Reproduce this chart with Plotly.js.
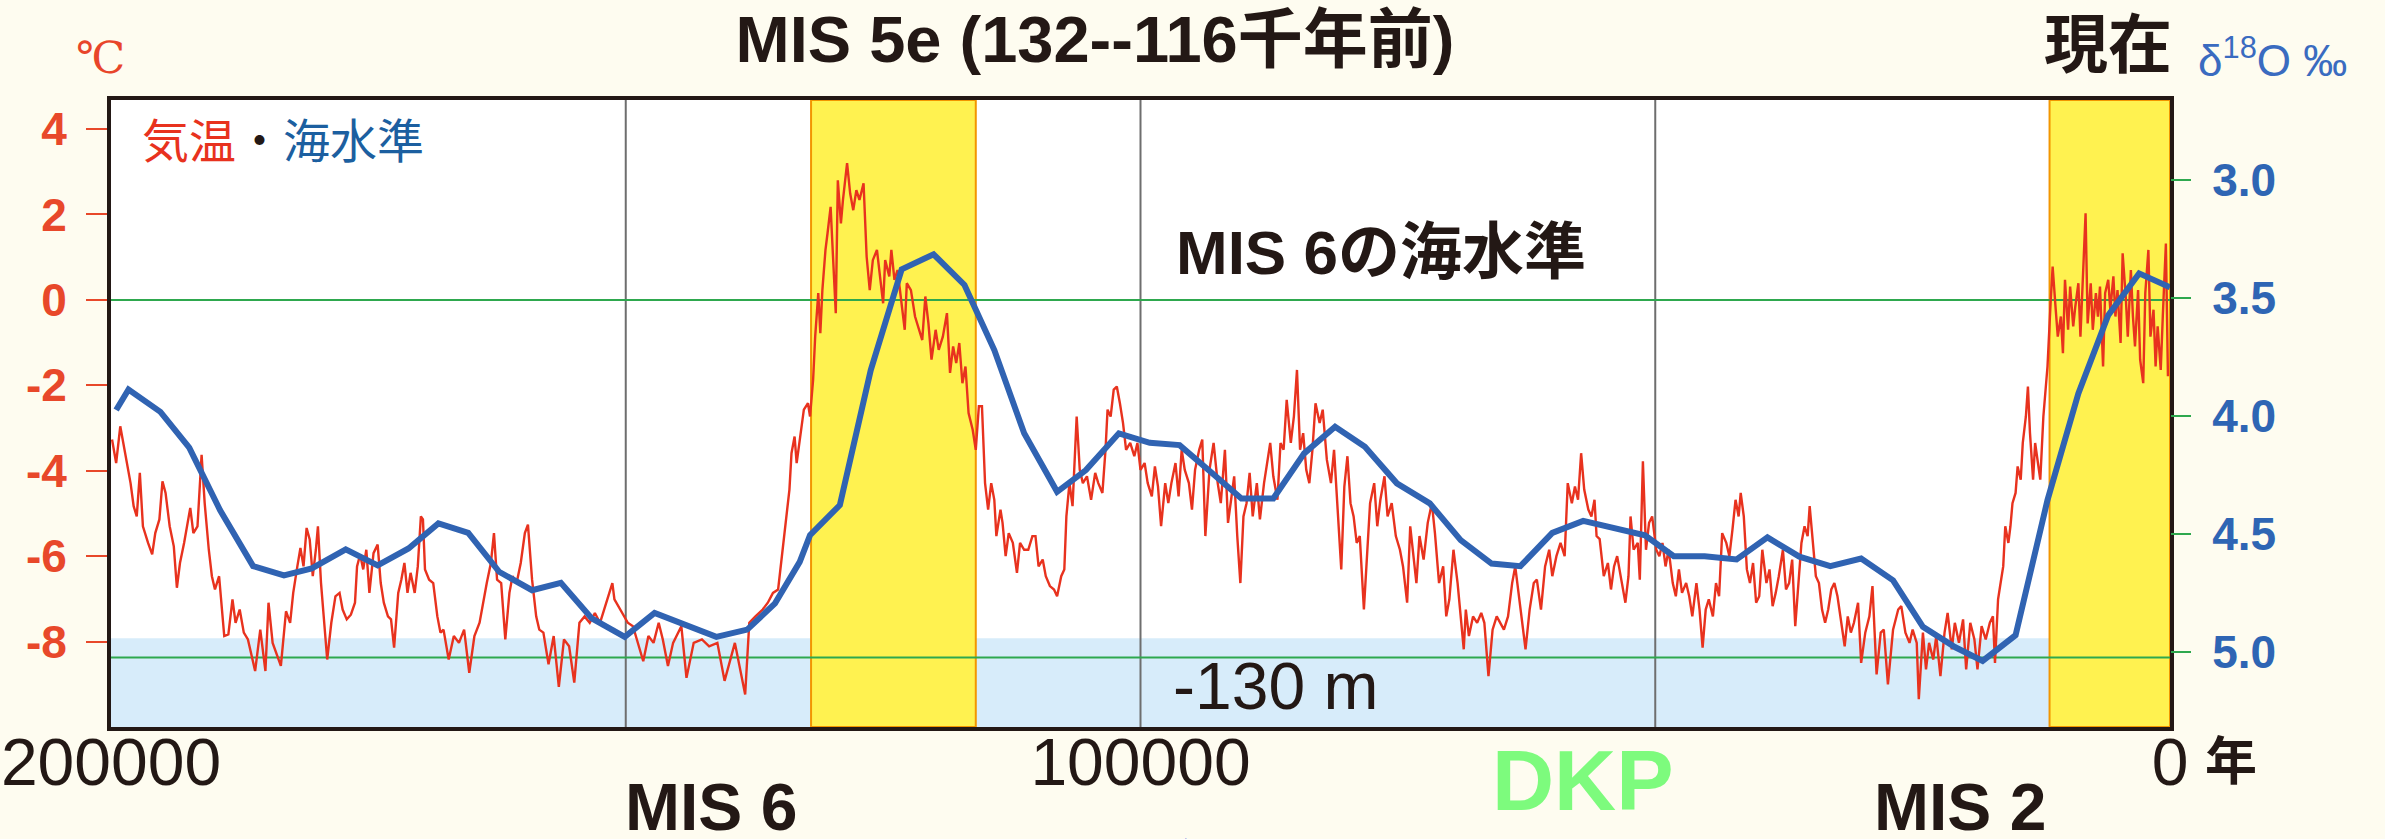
<!DOCTYPE html>
<html><head><meta charset="utf-8">
<script src="https://cdn.plot.ly/plotly-3.0.1.min.js"></script>
<style>html,body{margin:0;padding:0;background:#FEFCF0;}#chart{width:2385px;height:839px;}</style>
</head><body><div id="chart"></div>
<script>
// ---- data (ages in thousand years before present) ----
const xTickVals = [200000, 100000, 0];
const xTickText = ['200000', '100000', '0'];
const tempTickVals = [-8, -6, -4, -2, 0, 2, 4];
const tempTickText = ['-8', '-6', '-4', '-2', '0', '2', '4'];
const d18oTickVals = [3.0, 3.5, 4.0, 4.5, 5.0];
const d18oTickText = ['3.0', '3.5', '4.0', '4.5', '5.0'];
const mis5eKa = [132, 116];
const holoceneKa = [11.7, 0];
const gridKa = [150, 100, 50];
const presentTempLevel = 0;      // °C, green line
const lgmSeaLevelTemp = -8.37;   // °C equivalent of -130 m green line
const lowSeaBandTop = -7.92;     // °C, top of light-blue band

// temperature anomaly, [ka, °C]
const tempMIS6 = [[199.9,-3.27],[199.5,-3.82],[199.1,-2.96],[198.8,-3.35],[198.5,-3.78],[198.1,-4.29],[197.8,-4.83],[197.5,-5.07],[197.2,-4.05],[196.9,-5.30],[196.4,-5.69],[196.0,-5.96],[195.7,-5.46],[195.3,-5.14],[195.0,-4.25],[194.7,-4.52],[194.3,-5.30],[193.9,-5.77],[193.6,-6.74],[193.3,-6.16],[192.9,-5.69],[192.3,-4.87],[192.0,-5.46],[191.6,-5.30],[191.2,-3.63],[190.9,-4.76],[190.5,-5.85],[190.2,-6.47],[189.9,-6.78],[189.5,-6.47],[189.0,-7.87],[188.6,-7.83],[188.2,-7.01],[187.9,-7.56],[187.5,-7.25],[187.1,-7.79],[186.7,-7.95],[186.0,-8.69],[185.5,-7.72],[185.0,-8.69],[184.7,-7.09],[184.3,-8.03],[183.5,-8.57],[183.0,-7.29],[182.6,-7.56],[182.3,-6.86],[181.9,-6.24],[181.6,-5.81],[181.3,-6.24],[181.0,-5.34],[180.7,-5.61],[180.4,-6.47],[180.1,-5.85],[179.9,-5.30],[179.6,-6.63],[179.3,-7.48],[179.0,-8.42],[178.6,-7.56],[178.2,-6.94],[177.8,-6.86],[177.5,-7.25],[177.1,-7.48],[176.7,-7.37],[176.3,-7.09],[176.1,-6.24],[175.8,-5.96],[175.5,-6.31],[175.2,-5.85],[174.9,-6.86],[174.5,-5.93],[174.1,-5.73],[173.8,-6.63],[173.5,-7.09],[173.1,-7.41],[172.8,-7.48],[172.5,-8.14],[172.1,-6.86],[171.8,-6.55],[171.5,-6.16],[171.2,-6.86],[170.9,-6.39],[170.5,-6.86],[170.2,-6.24],[169.9,-5.07],[169.7,-5.14],[169.5,-6.31],[169.1,-6.55],[168.7,-6.63],[168.3,-7.41],[168.0,-7.79],[167.7,-7.72],[167.2,-8.42],[166.7,-7.87],[166.2,-8.03],[165.7,-7.72],[165.2,-8.73],[164.7,-7.87],[164.2,-7.56],[163.8,-7.01],[163.5,-6.63],[163.1,-6.16],[162.8,-5.46],[162.5,-6.55],[162.1,-6.63],[161.7,-7.95],[161.3,-6.86],[161.0,-6.47],[160.6,-6.63],[160.2,-6.16],[159.8,-5.46],[159.5,-5.26],[159.1,-6.55],[158.7,-7.41],[158.4,-7.72],[158.0,-7.79],[157.5,-8.53],[157.0,-7.87],[156.5,-9.06],[156.0,-7.95],[155.5,-8.11],[155.0,-8.96],[154.5,-7.56],[154.0,-7.41],[153.5,-7.56],[153.0,-7.33],[152.5,-7.56],[152.1,-7.25],[151.6,-6.86],[151.3,-6.63],[151.1,-7.01],[150.7,-7.17],[150.3,-7.33],[149.8,-7.56],[149.3,-7.64],[148.8,-8.03],[148.3,-8.46],[147.8,-7.87],[147.3,-8.03],[146.8,-7.56],[146.4,-7.95],[145.9,-8.57],[145.4,-8.03],[144.6,-7.64],[144.1,-8.85],[143.4,-8.03],[142.6,-7.95],[141.9,-8.11],[141.1,-8.03],[140.4,-8.92],[139.4,-8.03],[138.4,-9.24],[138.0,-7.56],[137.4,-7.41],[136.7,-7.25],[136.2,-7.09],[135.7,-6.86],[135.2,-6.78],[134.7,-5.69],[134.4,-5.07],[134.1,-4.44],[133.9,-3.59],[133.6,-3.20],[133.4,-3.82],[133.1,-3.3]];
const tempMIS5 = [[132.7,-2.57],[132.3,-2.42],[132.1,-2.73],[131.8,-1.87],[131.6,-0.86],[131.3,0.16],[131.1,-0.78],[130.9,0.23],[130.6,1.17],[130.4,1.56],[130.1,2.18],[129.9,1.17],[129.6,-0.31],[129.4,2.80],[129.1,1.79],[128.9,2.34],[128.5,3.20],[128.2,2.49],[127.9,2.10],[127.6,2.57],[127.3,2.34],[126.9,2.73],[126.6,1.01],[126.3,0.23],[126.0,0.93],[125.6,1.17],[125.3,0.55],[125.0,-0.08],[124.8,0.93],[124.4,0.55],[124.2,1.17],[123.9,0.47],[123.6,0.70],[123.3,0.08],[122.9,-0.70],[122.7,0.39],[122.3,0.23],[121.9,-0.39],[121.6,-0.62],[121.2,-0.94],[120.9,0.08],[120.6,-0.55],[120.3,-1.40],[119.9,-0.70],[119.6,-1.17],[119.2,-0.86],[118.8,-0.31],[118.5,-1.71],[118.2,-1.09],[117.9,-1.48],[117.6,-1.01],[117.3,-1.95],[117.0,-1.56],[116.7,-2.65],[116.3,-3.04],[116.0,-3.51],[115.7,-2.49],[115.4,-2.49],[115.1,-4.29],[114.8,-4.91],[114.5,-4.29],[114.2,-4.68],[114.0,-5.53],[113.6,-4.91],[113.4,-5.22],[113.1,-6.00],[112.8,-5.46],[112.4,-5.69],[112.0,-6.39],[111.7,-5.69],[111.3,-5.85],[110.9,-5.85],[110.5,-5.53],[110.2,-5.53],[109.9,-6.24],[109.5,-6.08],[109.2,-6.47],[108.8,-6.70],[108.4,-6.78],[108.1,-6.94],[107.7,-6.47],[107.4,-6.31],[107.2,-5.07],[106.9,-4.29],[106.6,-4.83],[106.2,-2.73],[105.9,-3.98],[105.6,-4.29],[105.2,-4.13],[104.8,-4.68],[104.4,-4.05],[104.1,-4.29],[103.7,-4.52],[103.4,-3.51],[103.2,-2.57],[102.9,-2.73],[102.6,-2.10],[102.3,-2.03],[102.0,-2.42],[101.7,-2.88],[101.4,-3.51],[101.0,-3.35],[100.6,-3.66],[100.3,-3.35],[100.0,-3.98],[99.6,-3.82],[99.3,-4.29],[98.9,-4.60],[98.6,-3.90],[98.3,-4.37],[98.0,-5.30],[97.6,-4.29],[97.3,-4.76],[97.0,-4.29],[96.6,-3.82],[96.3,-4.60],[96.0,-3.51],[95.7,-3.98],[95.3,-4.29],[95.0,-4.91],[94.7,-3.98],[94.3,-3.51],[94.0,-3.27],[93.7,-5.53],[93.3,-3.98],[92.9,-3.35],[92.5,-4.29],[92.2,-4.76],[91.8,-3.51],[91.5,-5.22],[91.2,-4.68],[90.9,-4.13],[90.6,-5.53],[90.3,-6.63],[90.0,-5.07],[89.7,-4.76],[89.4,-4.05],[89.1,-5.07],[88.7,-4.29],[88.4,-5.14],[88.0,-4.29],[87.7,-3.82],[87.4,-3.35],[87.1,-4.13],[86.7,-4.68],[86.4,-3.35],[86.1,-3.51],[85.8,-2.34],[85.4,-3.35],[85.1,-2.73],[84.8,-1.64],[84.5,-3.51],[84.2,-3.12],[83.9,-3.98],[83.6,-4.29],[83.3,-3.51],[83.0,-2.42],[82.6,-2.88],[82.3,-2.57],[81.9,-3.74],[81.5,-4.29],[81.2,-3.51],[80.9,-4.68],[80.5,-6.31],[80.2,-4.37],[79.9,-3.66],[79.6,-4.76],[79.3,-5.07],[79.0,-5.69],[78.7,-5.53],[78.3,-7.25],[78.0,-6.08],[77.7,-4.76],[77.3,-4.29],[77.0,-5.30],[76.7,-4.68],[76.3,-4.13],[76.0,-5.07],[75.6,-4.76],[75.2,-5.53],[74.8,-5.85],[74.5,-6.24],[74.1,-7.09],[73.8,-5.30],[73.5,-6.00],[73.2,-6.63],[72.9,-5.53],[72.5,-6.08],[72.1,-5.22],[71.7,-4.76],[71.4,-5.46],[71.0,-6.63],[70.6,-6.24],[70.3,-7.41],[70.0,-7.01],[69.6,-5.85],[69.2,-6.63],[68.9,-7.41],[68.6,-8.18],[68.4,-7.25],[68.1,-7.87],[67.7,-7.41],[67.3,-7.56],[66.9,-7.33],[66.6,-7.56],[66.2,-8.81],[65.8,-7.72],[65.4,-7.41],[65.1,-7.56],[64.7,-7.72],[64.3,-7.41],[63.9,-6.63],[63.6,-6.24],[63.3,-6.86],[63.0,-7.41],[62.6,-8.18],[62.2,-7.25],[61.8,-6.63],[61.5,-6.55],[61.1,-7.25],[60.7,-6.24],[60.3,-5.85],[60.0,-6.47],[59.6,-6.00],[59.2,-5.69],[58.8,-6.00],[58.5,-4.29],[58.1,-4.76],[57.8,-4.37],[57.5,-4.68],[57.2,-3.59],[56.9,-4.44],[56.5,-4.91],[56.2,-5.07],[55.9,-4.68],[55.7,-5.53]];
const tempLastGlacial = [[55.4,-5.6],[55.0,-6.47],[54.6,-6.16],[54.3,-6.78],[54.0,-6.24],[53.7,-6.00],[53.3,-6.55],[52.9,-7.09],[52.6,-6.47],[52.4,-5.07],[52.1,-5.85],[51.7,-5.69],[51.5,-6.55],[51.2,-3.78],[50.9,-5.85],[50.6,-5.22],[50.3,-5.07],[49.9,-5.85],[49.6,-6.00],[49.3,-5.69],[49.0,-6.24],[48.7,-5.85],[48.3,-6.63],[48.0,-6.94],[47.7,-6.31],[47.4,-6.86],[47.0,-6.63],[46.7,-6.94],[46.4,-7.41],[46.0,-6.63],[45.7,-7.25],[45.4,-8.14],[45.1,-7.25],[44.8,-7.01],[44.4,-7.41],[44.1,-6.63],[43.8,-6.94],[43.5,-5.46],[43.1,-5.69],[42.8,-6.00],[42.5,-5.38],[42.2,-4.68],[41.9,-5.07],[41.7,-4.52],[41.4,-5.07],[41.1,-6.31],[40.8,-6.63],[40.5,-6.16],[40.2,-7.09],[39.9,-6.94],[39.6,-5.85],[39.2,-6.63],[38.9,-6.31],[38.6,-7.17],[38.3,-6.86],[38.0,-6.47],[37.6,-5.85],[37.3,-6.78],[37.0,-6.63],[36.7,-6.08],[36.4,-7.64],[36.1,-6.63],[35.8,-5.69],[35.5,-5.30],[35.2,-5.53],[35.0,-4.83],[34.7,-5.69],[34.4,-6.47],[34.1,-6.63],[33.8,-7.25],[33.5,-7.56],[33.2,-7.25],[32.9,-6.78],[32.6,-6.63],[32.3,-6.94],[32.0,-7.41],[31.6,-8.11],[31.3,-7.41],[31.0,-7.79],[30.7,-7.56],[30.3,-7.09],[30.0,-8.50],[29.6,-7.79],[29.2,-7.41],[28.9,-6.70],[28.5,-8.77],[28.1,-7.79],[27.8,-7.72],[27.4,-9.00],[26.9,-7.72],[26.4,-7.25],[26.1,-7.17],[25.7,-7.79],[25.3,-8.03],[25.0,-7.72],[24.6,-8.03],[24.4,-9.35],[24.0,-7.79],[23.7,-8.65],[23.4,-8.03],[23.0,-8.42],[22.7,-7.87],[22.3,-8.81],[21.9,-7.79],[21.6,-7.33],[21.2,-8.18],[20.9,-7.56],[20.5,-8.03],[20.1,-7.48],[19.8,-8.65],[19.4,-7.56],[19.0,-7.95],[18.7,-8.65],[18.3,-7.64],[17.9,-7.95],[17.5,-7.56],[17.2,-7.41],[17.0,-8.50],[16.7,-7.01],[16.5,-6.70],[16.2,-6.24],[16.0,-5.30],[15.7,-5.69],[15.5,-5.30],[15.3,-4.76],[15.0,-4.52],[14.8,-3.90],[14.5,-4.21],[14.3,-3.35],[14.0,-2.73],[13.8,-2.03],[13.6,-3.12],[13.3,-4.21],[13.1,-3.35],[12.8,-3.90],[12.6,-4.21],[12.3,-2.73],[12.1,-2.18]];
const tempHolocene = [[11.9,-1.56],[11.6,-0.08],[11.4,0.78],[11.1,-0.23],[10.9,-0.86],[10.6,-0.39],[10.4,-1.25],[10.2,0.47],[9.9,-0.70],[9.7,0.31],[9.4,-0.62],[9.2,-0.16],[8.9,0.39],[8.7,-0.86],[8.5,0.23],[8.2,2.03],[8.0,-0.55],[7.7,0.39],[7.5,-0.70],[7.2,0.16],[7.0,-0.39],[6.8,0.31],[6.5,-1.56],[6.3,0.16],[6.0,0.47],[5.8,-0.23],[5.5,0.55],[5.3,-0.39],[5.1,0.23],[4.8,-1.01],[4.6,1.09],[4.3,0.08],[4.1,-0.86],[3.8,0.70],[3.6,-0.39],[3.4,-1.09],[3.1,0.23],[2.9,-1.40],[2.6,-1.95],[2.4,0.16],[2.1,1.17],[1.9,-0.86],[1.6,-0.23],[1.4,-1.56],[1.2,-0.62],[0.9,-1.64],[0.7,-0.39],[0.4,1.32],[0.2,-1.79]];

// benthic δ18O (sea level proxy), [ka, ‰]
const d18oSeries = [[199.5,3.975],[198.3,3.888],[195.2,3.983],[192.4,4.135],[189.4,4.40],[186.2,4.637],[183.2,4.676],[180.5,4.647],[177.2,4.566],[174.1,4.634],[171.1,4.562],[168.2,4.456],[165.3,4.496],[162.3,4.661],[159.1,4.739],[156.3,4.708],[153.3,4.859],[150.1,4.937],[147.2,4.835],[141.2,4.937],[138.2,4.906],[135.5,4.795],[133.1,4.619],[132.1,4.506],[129.2,4.378],[126.2,3.806],[123.2,3.379],[120.1,3.315],[117.1,3.445],[114.2,3.721],[111.3,4.074],[108.1,4.322],[105.3,4.23],[102.1,4.074],[99.1,4.114],[96.2,4.124],[93.2,4.237],[90.2,4.35],[87.1,4.35],[84.1,4.159],[81.1,4.046],[78.2,4.131],[75.1,4.286],[71.9,4.371],[68.9,4.527],[65.9,4.626],[63.1,4.637],[60.0,4.496],[57.0,4.445],[51.0,4.506],[48.2,4.595],[45.2,4.595],[42.1,4.609],[39.1,4.515],[36.0,4.597],[33.0,4.637],[30.0,4.605],[26.9,4.697],[24.0,4.894],[20.9,4.98],[18.2,5.039],[15.0,4.93],[11.9,4.357],[8.9,3.905],[6.0,3.573],[3.0,3.396],[0.0,3.455]];

// ---- build ----
const KA = 1000;
const tempAll = tempMIS6.concat(tempMIS5, tempLastGlacial, tempHolocene);
const FONT = '"Liberation Sans", Arial, "Noto Sans CJK JP", sans-serif';
const CJK = '"Noto Sans CJK JP", "Liberation Sans", sans-serif';
const INK = '#231815';

const traces = [
  {x: tempAll.map(p => p[0]*KA), y: tempAll.map(p => p[1]), type:'scatter', mode:'lines',
   line:{color:'#E8321E', width:2.4}, yaxis:'y', hoverinfo:'skip'},
  {x: d18oSeries.map(p => p[0]*KA), y: d18oSeries.map(p => p[1]), type:'scatter', mode:'lines',
   line:{color:'#3063B2', width:6}, yaxis:'y2', hoverinfo:'skip'}
];

const shapes = [
  {type:'rect', xref:'paper', yref:'y', x0:0, x1:1, y0:-12, y1:lowSeaBandTop, fillcolor:'#D7ECFA', line:{width:0}, layer:'below'},
  {type:'rect', xref:'x', yref:'paper', x0:mis5eKa[0]*KA, x1:mis5eKa[1]*KA, y0:0, y1:1, fillcolor:'#FFF250', line:{color:'#F29600', width:2}, layer:'below'},
  {type:'rect', xref:'x', yref:'paper', x0:holoceneKa[0]*KA, x1:holoceneKa[1]*KA, y0:0, y1:1, fillcolor:'#FFF250', line:{color:'#F29600', width:2}, layer:'below'}
];
gridKa.forEach(k => shapes.push({type:'line', xref:'x', yref:'paper', x0:k*KA, x1:k*KA, y0:0, y1:1, line:{color:'#6E6E6E', width:2}, layer:'below'}));
[presentTempLevel, lgmSeaLevelTemp].forEach(v => shapes.push({type:'line', xref:'paper', yref:'y', x0:0, x1:1, y0:v, y1:v, line:{color:'#2EA84E', width:2}, layer:'below'}));

function ann(text, x, y, size, color, opts) {
  return Object.assign({text, x, y, xref:'paper', yref:'paper', showarrow:false, xanchor:'center', yanchor:'middle',
    font:{size, color, family:FONT}}, opts || {});
}

const annotations = [
  ann('℃', -0.0049, 1.066, 44, '#E8452A', {font:{size:44, color:'#E8452A', family:'"Liberation Serif", "DejaVu Serif", serif'}}),
  ann('<span style="color:#E8321E">気温</span><span style="color:#231815">・</span><span style="color:#1C5FA0">海水準</span>', 0.0141, 0.94, 47, '#1C5FA0', {xanchor:'left', font:{size:47, family:CJK, color:'#1C5FA0'}}),
  ann('現在', 0.9699, 1.097, 64, INK, {font:{size:64, color:INK, family:CJK, weight:'bold'}}),
  ann('δ<sup>18</sup>O ‰', 1.0126, 1.068, 44, '#3A6BC0', {xanchor:'left'}),
  ann('MIS 6の海水準', 0.6168, 0.757, 62, INK, {font:{size:62, color:INK, family:FONT, weight:'bold'}}),
  ann('-130 m', 0.5658, 0.066, 66, INK),
  ann('年', 1.0296, -0.048, 52, INK, {font:{size:52, color:INK, family:CJK, weight:'bold'}}),
  ann('MIS 6', 0.2914, -0.127, 66, INK, {font:{size:66, color:INK, family:FONT, weight:'bold'}}),
  ann('MIS 2', 0.898, -0.127, 66, INK, {font:{size:66, color:INK, family:FONT, weight:'bold'}}),
  ann('DKP', 0.7149, -0.084, 86, '#7DFB7D', {font:{size:86, color:'#7DFB7D', family:FONT, weight:'bold'}}),
  ann('▲', 0.5221, -0.19, 28, '#1A3FE0', {font:{size:28, color:'#1A3FE0', family:'"DejaVu Sans", sans-serif'}})
];

const layout = {
  width:2385, height:839,
  paper_bgcolor:'#FEFCF0', plot_bgcolor:'#FFFFFF',
  margin:{l:111, r:215, t:100, b:112, pad:0},
  showlegend:false,
  font:{family:FONT, color:INK},
  title:{text:'MIS 5e (132--116千年前)', x:0.4779, xref:'paper', xanchor:'center', y:1-39/839, yref:'container', yanchor:'middle',
         font:{size:65, color:INK, family:FONT, weight:'bold'}},
  xaxis:{range:[200000, 0], tickvals:xTickVals, ticktext:xTickText, ticks:'', showgrid:false, zeroline:false,
         showline:true, mirror:true, linecolor:INK, linewidth:4, tickfont:{size:66, color:INK}, ticklabelstandoff:-25},
  yaxis:{range:[-10.0, 4.68], tickvals:tempTickVals, ticktext:tempTickText, ticks:'outside', ticklen:21, tickwidth:2,
         tickcolor:'#E8482A', tickfont:{size:46, color:'#E8482A', weight:'bold'}, showgrid:false, zeroline:false,
         showline:true, mirror:true, linecolor:INK, linewidth:4, ticklabelstandoff:10},
  yaxis2:{overlaying:'y', side:'right', range:[5.319, 2.661], tickvals:d18oTickVals, ticktext:d18oTickText,
          ticks:'outside', ticklen:20, tickwidth:2, tickcolor:'#2EA84E', tickfont:{size:46, color:'#2E65B4', weight:'bold'},
          showgrid:false, zeroline:false, showline:false, ticklabelstandoff:12},
  shapes, annotations
};

Plotly.newPlot('chart', traces, layout, {staticPlot:true, displayModeBar:false});
</script></body></html>
